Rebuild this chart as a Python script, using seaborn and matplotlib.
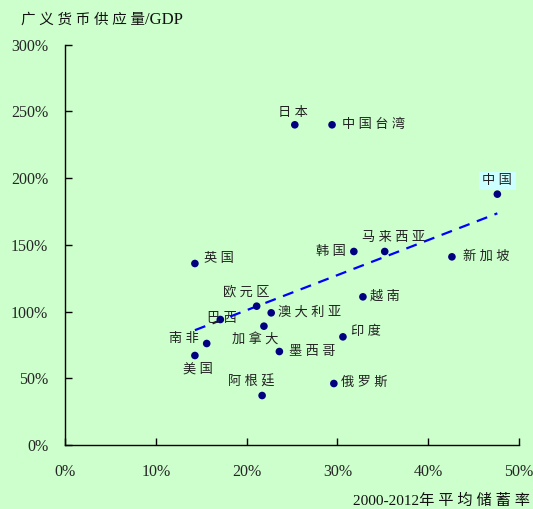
import matplotlib
matplotlib.use("Agg")
import matplotlib.pyplot as plt
import seaborn as sns
import pandas as pd

countries = ["日本", "中国台湾", "中国", "英国", "韩国", "马来西亚", "新加坡", "欧元区",
             "越南", "巴西", "澳大利亚", "加拿大", "印度", "南非", "美国", "墨西哥",
             "俄罗斯", "阿根廷"]
saving_rate = [25.3, 29.4, 47.6, 14.3, 31.8, 35.2, 42.6, 21.1,
               32.8, 17.1, 22.7, 21.9, 30.6, 15.6, 14.3, 23.6,
               29.6, 21.7]
m2_gdp = [240, 240, 188, 136, 145, 145, 141, 104,
          111, 94, 99, 89, 81, 76, 67, 70,
          46, 37]
trend_x = [14.3, 47.6]
trend_y = [86, 173.6]

x_ticks = [0, 10, 20, 30, 40, 50]
y_ticks = [0, 50, 100, 150, 200, 250, 300]

# label offsets in pixels (dx, dy) and alignment
label_style = {
    "日本": (-2, 12, "center"),
    "中国台湾": (10, 0, "left"),
    "中国": (0, 13, "center"),
    "英国": (9, 4, "left"),
    "韩国": (-8, 0, "right"),
    "马来西亚": (9, 14, "center"),
    "新加坡": (11, 0, "left"),
    "欧元区": (-10, 14, "center"),
    "越南": (7, 0, "left"),
    "巴西": (2, 1, "center"),
    "澳大利亚": (7, 0, "left"),
    "加拿大": (-9, -13, "center"),
    "印度": (8, 5, "left"),
    "南非": (-8, 5, "right"),
    "美国": (3, -14, "center"),
    "墨西哥": (10, 0, "left"),
    "俄罗斯": (7, 1, "left"),
    "阿根廷": (-11, 13, "center"),
}


def spaced(s):
    return " ".join(s)


bg = "#CCFFCC"
sns.set_theme(style="white")
plt.rcParams["font.family"] = ["Liberation Serif", "Noto Sans CJK SC"]

df = pd.DataFrame({"country": countries, "x": saving_rate, "y": m2_gdp})
tdf = pd.DataFrame({"x": trend_x, "y": trend_y})

fig = plt.figure(figsize=(5.33, 5.09), dpi=100, facecolor=bg)
ax = fig.add_axes([0.122, 0.126, 0.852, 0.786])
ax.set_facecolor(bg)

sns.lineplot(data=tdf, x="x", y="y", ax=ax, color="#0000FF", lw=1.6,
             linestyle=(0, (5, 3.5)))
sns.scatterplot(data=df, x="x", y="y", ax=ax, color="#000080", s=30,
                edgecolor="none", zorder=3)

lab_fam = ["Liberation Serif", "Noto Sans CJK SC"]
for c, xv, yv in zip(countries, saving_rate, m2_gdp):
    dx, dy, ha = label_style[c]
    kw = {}
    if c == "中国":
        kw["bbox"] = dict(boxstyle="square,pad=0.25", fc="#CCFFFF", ec="none")
    ax.annotate(spaced(c), (xv, yv), xytext=(dx * 0.72, dy * 0.72),
                textcoords="offset points", ha=ha, va="center", fontsize=9.5,
                family=lab_fam, color="#222222", **kw)

ax.set_xlim(0, 50)
ax.set_ylim(0, 300)
ax.set_xticks(x_ticks)
ax.set_yticks(y_ticks)
ax.set_xticklabels([f"{v}%" for v in x_ticks], fontsize=11.5)
ax.set_yticklabels([f"{v}%" for v in y_ticks], fontsize=11.5)
ax.tick_params(axis="both", direction="in", length=5, width=1, color="black",
               left=True, bottom=True)
ax.tick_params(axis="y", pad=12)
ax.tick_params(axis="x", pad=14)
for s in ["top", "right"]:
    ax.spines[s].set_visible(False)
for s in ["left", "bottom"]:
    ax.spines[s].set_color("black")
    ax.spines[s].set_linewidth(1)
ax.set_xlabel("")
ax.set_ylabel("")

fig.text(0.04, 0.96, spaced("广义货币供应量"), fontsize=10.5, ha="left",
         va="center", color="#111111")
fig.text(0.272, 0.96, "/GDP", fontsize=12, ha="left", va="center",
         color="#111111")
fig.text(0.995, 0.015, "2000-2012" + spaced("年平均储蓄率"), fontsize=11,
         ha="right", va="center", color="#111111")

fig.savefig("out.png", dpi=100, facecolor=bg)
